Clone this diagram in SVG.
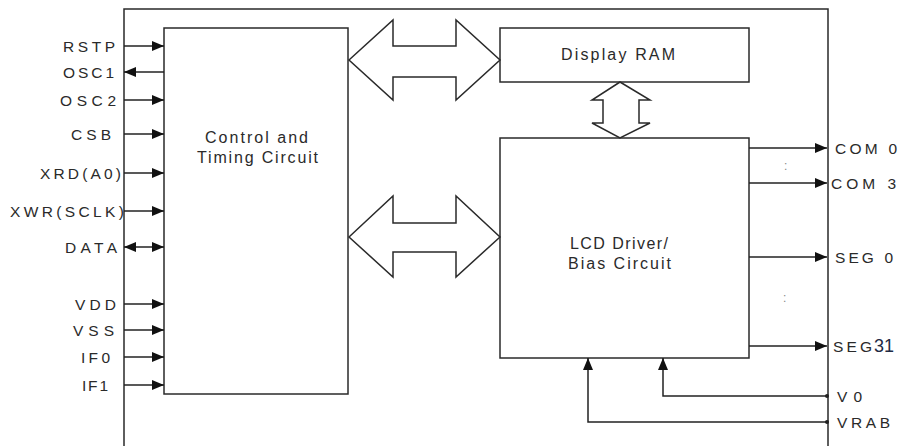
<svg xmlns="http://www.w3.org/2000/svg" width="898" height="446" viewBox="0 0 898 446">
<defs>
<marker id="ah" viewBox="0 0 12 10" refX="12" refY="5" markerWidth="12" markerHeight="10" markerUnits="userSpaceOnUse" orient="auto-start-reverse">
<path d="M0,0 L12,5 L0,10 Z" fill="#111"/>
</marker>
<style>
.ln{stroke:#2a2a2a;stroke-width:1.5;fill:none}
.bx{stroke:#2a2a2a;stroke-width:1.5;fill:#fff}
.t{font-family:"Liberation Sans",Arial,sans-serif;font-size:15.5px;fill:#2a2a2a}
.bt{font-family:"Liberation Sans",Arial,sans-serif;font-size:16px;fill:#2a2a2a}
.pin{stroke:#222;stroke-width:1.5;fill:none;marker-end:url(#ah)}
</style>
</defs>
<rect width="898" height="446" fill="#fff"/>
<g id="frame"><path class="ln" d="M124,446 V9 H828 V446"/></g>
<g id="control"><rect class="bx" x="164" y="28" width="184" height="366"/>
<text class="bt" x="205" y="143" textLength="103" lengthAdjust="spacing">Control and</text>
<text class="bt" x="197" y="163" textLength="121" lengthAdjust="spacing">Timing Circuit</text></g>
<g id="ram"><rect class="bx" x="500" y="28" width="249" height="54"/>
<text class="bt" x="561" y="60" textLength="114" lengthAdjust="spacing">Display RAM</text></g>
<g id="lcd"><rect class="bx" x="500" y="138" width="249" height="220"/>
<text class="bt" x="570" y="249" textLength="98" lengthAdjust="spacing">LCD Driver/</text>
<text class="bt" x="568" y="269" textLength="103" lengthAdjust="spacing">Bias Circuit</text></g>
<g id="connectors">
<polygon class="ln" fill="#fff" points="349,60 393,20 393,46 456,46 456,20 500,60 456,100 456,77 393,77 393,100"/>
<polygon class="ln" fill="#fff" points="349,237 393,196 393,223 456,223 456,196 500,237 456,277 456,252 393,252 393,277"/>
<polygon class="ln" fill="#fff" points="620,82 650,100 639,100 639,123 650,123 620,138 592,123 603,123 603,100 592,100"/>
<path class="pin" d="M124,46 H164"/>
<path class="pin" d="M164,72 H124"/>
<path class="pin" d="M124,100 H164"/>
<path class="pin" d="M124,134 H164"/>
<path class="pin" d="M124,173 H164"/>
<path class="pin" d="M124,211 H164"/>
<path class="pin" d="M124,247 H164" style="marker-start:url(#ah)"/>
<path class="pin" d="M124,304 H164"/>
<path class="pin" d="M124,330 H164"/>
<path class="pin" d="M124,357 H164"/>
<path class="pin" d="M124,385 H164"/>
<path class="pin" d="M749,148 H827"/>
<path class="pin" d="M749,183 H827"/>
<path class="pin" d="M749,257 H827"/>
<path class="pin" d="M749,346 H827"/>
<path class="pin" d="M827,396 H663 V358"/>
<path class="pin" d="M827,422 H588 V358"/>
<circle cx="827" cy="396" r="2" fill="#222"/>
<circle cx="827" cy="422" r="2" fill="#222"/>
</g>
<g id="labels">
<text class="t" x="63" y="52" textLength="52" lengthAdjust="spacing">RSTP</text>
<text class="t" x="63" y="78" textLength="51" lengthAdjust="spacing">OSC1</text>
<text class="t" x="60" y="106" textLength="56" lengthAdjust="spacing">OSC2</text>
<text class="t" x="71" y="140" textLength="40" lengthAdjust="spacing">CSB</text>
<text class="t" x="40" y="179" textLength="81" lengthAdjust="spacing">XRD(A0)</text>
<text class="t" x="10" y="217" textLength="114" lengthAdjust="spacing">XWR(SCLK)</text>
<text class="t" x="65" y="253" textLength="52" lengthAdjust="spacing">DATA</text>
<text class="t" x="75" y="310" textLength="41" lengthAdjust="spacing">VDD</text>
<text class="t" x="73" y="336" textLength="41" lengthAdjust="spacing">VSS</text>
<text class="t" x="81" y="363" textLength="29" lengthAdjust="spacing">IF0</text>
<text class="t" x="82" y="391" textLength="26" lengthAdjust="spacing">IF1</text>
<text class="t" x="835" y="154" textLength="62" lengthAdjust="spacing">COM 0</text>
<text class="t" x="831" y="189" textLength="65" lengthAdjust="spacing">COM 3</text>
<text class="t" x="835" y="263" textLength="58" lengthAdjust="spacing">SEG 0</text>
<text class="t" x="833" y="352"><tspan textLength="39" lengthAdjust="spacing">SEG</tspan><tspan x="874" style="font-family:'Liberation Sans',Arial,sans-serif;font-size:18px;fill:#1f2a44">31</tspan></text>
<text class="t" x="837" y="402" textLength="25" lengthAdjust="spacing">V0</text>
<text class="t" x="837" y="428" textLength="53" lengthAdjust="spacing">VRAB</text>
<text class="t" x="784" y="170" style="fill:#888;font-size:12px">:</text>
<text class="t" x="783" y="302" style="fill:#888;font-size:12px">:</text>
</g>
</svg>
